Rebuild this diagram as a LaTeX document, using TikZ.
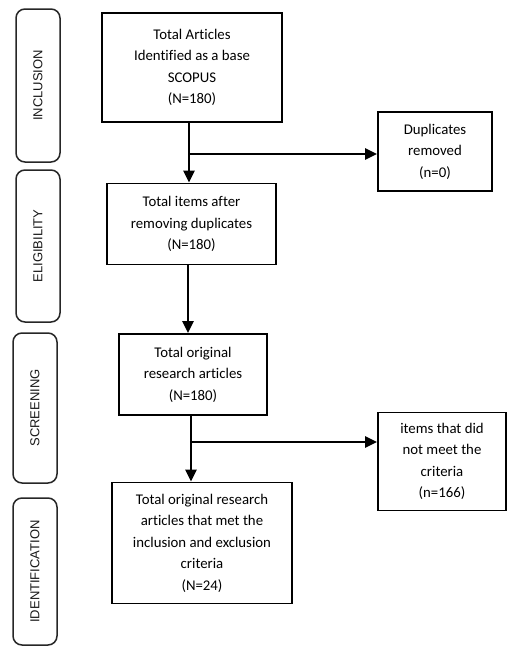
\documentclass[tikz,border=0pt]{standalone}
\usepackage{fontspec}
\setmainfont{Carlito}[Ligatures={NoCommon}]
\newfontfamily\sidefont{Liberation Sans}
\usetikzlibrary{arrows.meta}
\begin{document}
\begin{tikzpicture}[x=1pt,y=-1pt,
  mainbox/.style={draw=black,line width=1.8pt,rectangle,inner sep=0pt,align=center,
    font=\fontsize{14.8}{21.5}\selectfont,text=black},
  sidebox/.style={draw=black!85,line width=1.5pt,rounded corners=9pt},
  sidelabel/.style={rotate=90,font=\sidefont\fontsize{13}{14}\selectfont,text=black!90,inner sep=0pt},
  flow/.style={line width=2.8pt,-{Triangle[length=12pt,width=11pt]}}
]
\useasboundingbox (0,0) rectangle (507,648);

% side phase boxes
\draw[sidebox] (16,9) rectangle (60,162);
\node[sidelabel] (lincl) at (38,85.5) {INCLUSION};
\draw[sidebox] (16,170) rectangle (60,322);
\node[sidelabel] (lelig) at (38,246) {ELIGIBILITY};
\draw[sidebox] (13,333) rectangle (57,483);
\node[sidelabel] (lscr) at (35,408) {SCREENING};
\draw[sidebox] (13,498) rectangle (57,645);
\node[sidelabel] (lident) at (35,571.5) {IDENTIFICATION};

% main boxes
\node[mainbox,minimum width=180pt,minimum height=109pt] (b1) at (192,67.5)
  {Total Articles\\Identified as a base\\SCOPUS\\(N=180)};
\node[mainbox,minimum width=114pt,minimum height=79pt] (dup) at (435,151.5)
  {Duplicates\\removed\\(n=0)};
\node[mainbox,minimum width=169pt,minimum height=81pt] (b2) at (191.5,224)
  {Total items after\\removing duplicates\\(N=180)};
\node[mainbox,minimum width=148pt,minimum height=81pt] (b3) at (193,374.5)
  {Total original\\research articles\\(N=180)};
\node[mainbox,minimum width=128pt,minimum height=98pt] (excl) at (442,461.5)
  {items that did\\not meet the\\criteria\\(n=166)};
\node[mainbox,minimum width=180pt,minimum height=121pt] (b4) at (202,543)
  {Total original research\\articles that met the\\inclusion and exclusion\\criteria\\(N=24)};

% connectors
\coordinate (j1) at (189,154);
\draw[flow] (j1 |- b1.south) -- (j1 |- b2.north);
\draw[flow] (j1) -- (j1 -| dup.west);
\coordinate (j2) at (188,300);
\draw[flow] (j2 |- b2.south) -- (j2 |- b3.north);
\coordinate (j3) at (191,442);
\draw[flow] (j3 |- b3.south) -- (j3 |- b4.north);
\draw[flow] (j3) -- (j3 -| excl.west);
\end{tikzpicture}
\end{document}
